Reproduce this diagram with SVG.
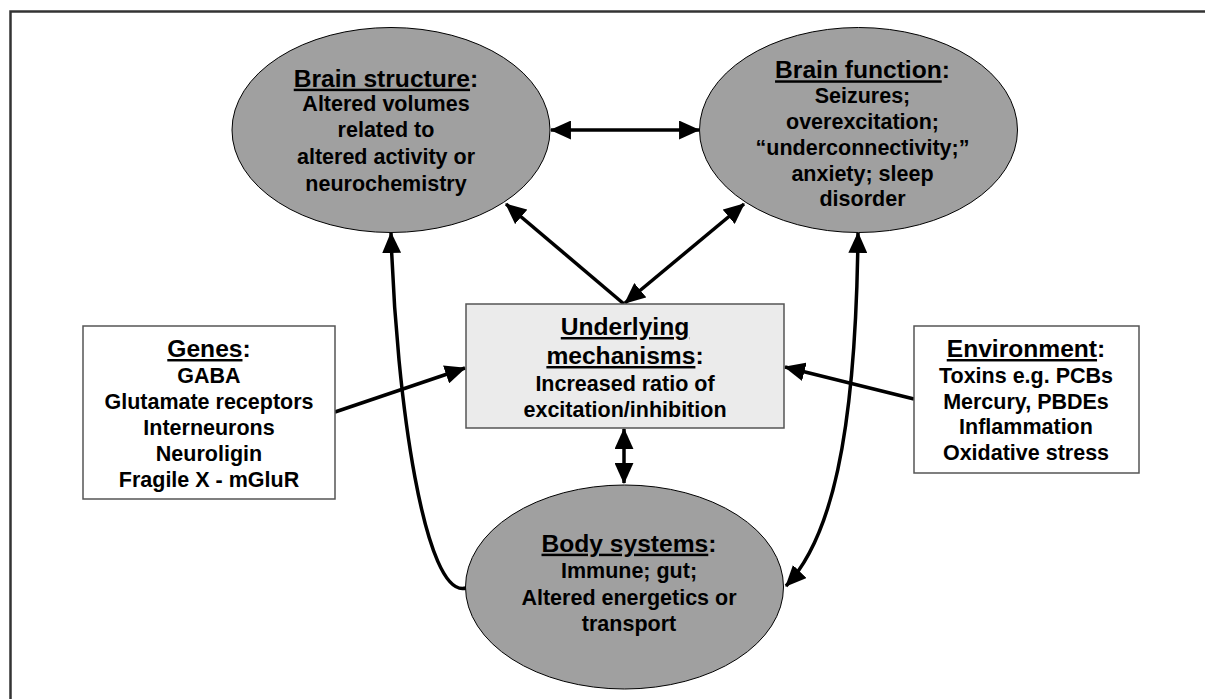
<svg xmlns="http://www.w3.org/2000/svg" width="1205" height="699" viewBox="0 0 1205 699">
<defs>
<style>
text{font-family:"Liberation Sans",Arial,sans-serif;font-weight:bold;fill:#000;text-anchor:middle}
.h{font-size:24.6px}
.b{font-size:21.5px}
.u{text-decoration:underline}
.ell{fill:#a0a0a0;stroke:#000;stroke-width:1}
.box{fill:#fff;stroke:#555;stroke-width:1.5}
.conn{fill:none;stroke:#000;stroke-width:3.5}
</style>
<marker id="ah" markerUnits="userSpaceOnUse" markerWidth="21" markerHeight="19" viewBox="0 0 20 18" refX="19" refY="9" orient="auto-start-reverse">
<path d="M0,0 L20,9 L0,18 z" fill="#000"/>
</marker>
</defs>
<rect width="1205" height="699" fill="#fff"/>
<path d="M10.5,699 L10.5,11.5 L1205,11.5" fill="none" stroke="#333" stroke-width="2.5"/>

<g id="connectors">
<line class="conn" x1="551" y1="130" x2="699" y2="130" marker-start="url(#ah)" marker-end="url(#ah)"/>
<line class="conn" x1="624" y1="304" x2="506" y2="204" marker-end="url(#ah)"/>
<line class="conn" x1="625" y1="303" x2="744" y2="204" marker-start="url(#ah)" marker-end="url(#ah)"/>
<line class="conn" x1="624" y1="429" x2="624" y2="483" marker-start="url(#ah)" marker-end="url(#ah)"/>
<line class="conn" x1="335" y1="412" x2="465" y2="368" marker-end="url(#ah)"/>
<line class="conn" x1="914" y1="399" x2="785" y2="367" marker-end="url(#ah)"/>
<path class="conn" d="M391,233 C396,400 425,600 466,588" marker-start="url(#ah)"/>
<path class="conn" d="M858,233 C856,440 830,540 786,586" marker-start="url(#ah)" marker-end="url(#ah)"/>
</g>

<g id="brain-structure">
<ellipse class="ell" cx="391" cy="130" rx="159" ry="102.5"/>
<text class="h" x="386" y="86.7"><tspan class="u">Brain structure</tspan>:</text>
<text class="b" x="386" y="110.7">Altered volumes</text>
<text class="b" x="386" y="137.3">related to</text>
<text class="b" x="386" y="164">altered activity or</text>
<text class="b" x="386" y="190.7">neurochemistry</text>
</g>

<g id="brain-function">
<ellipse class="ell" cx="858.5" cy="130" rx="159" ry="102.5"/>
<text class="h" x="862.5" y="78.3"><tspan class="u">Brain function</tspan>:</text>
<text class="b" x="862.5" y="103.3">Seizures;</text>
<text class="b" x="862.5" y="129.3">overexcitation;</text>
<text class="b" x="862.5" y="155">“underconnectivity;”</text>
<text class="b" x="862.5" y="181">anxiety; sleep</text>
<text class="b" x="862.5" y="206">disorder</text>
</g>

<g id="underlying-mechanisms">
<rect x="466" y="304" width="318" height="124" fill="#ebebeb" stroke="#555" stroke-width="1.5"/>
<text class="h" x="625" y="335"><tspan class="u">Underlying</tspan></text>
<text class="h" x="625" y="364"><tspan class="u">mechanisms</tspan>:</text>
<text class="b" x="625" y="390.7">Increased ratio of</text>
<text class="b" x="625" y="417.3">excitation/inhibition</text>
</g>

<g id="genes">
<rect class="box" x="83" y="326" width="252" height="173"/>
<text class="h" x="209" y="357"><tspan class="u">Genes</tspan>:</text>
<text class="b" x="209" y="383">GABA</text>
<text class="b" x="209" y="409">Glutamate receptors</text>
<text class="b" x="209" y="435">Interneurons</text>
<text class="b" x="209" y="461">Neuroligin</text>
<text class="b" x="209" y="487">Fragile X - mGluR</text>
</g>

<g id="environment">
<rect class="box" x="914" y="326" width="225" height="147"/>
<text class="h" x="1026" y="357"><tspan class="u">Environment</tspan>:</text>
<text class="b" x="1026" y="383">Toxins e.g. PCBs</text>
<text class="b" x="1026" y="408.5">Mercury, PBDEs</text>
<text class="b" x="1026" y="434">Inflammation</text>
<text class="b" x="1026" y="460">Oxidative stress</text>
</g>

<g id="body-systems">
<ellipse class="ell" cx="624.5" cy="587" rx="159" ry="102"/>
<text class="h" x="629" y="551.7"><tspan class="u">Body systems</tspan>:</text>
<text class="b" x="629" y="578">Immune; gut;</text>
<text class="b" x="629" y="605">Altered energetics or</text>
<text class="b" x="629" y="631">transport</text>
</g>
</svg>
